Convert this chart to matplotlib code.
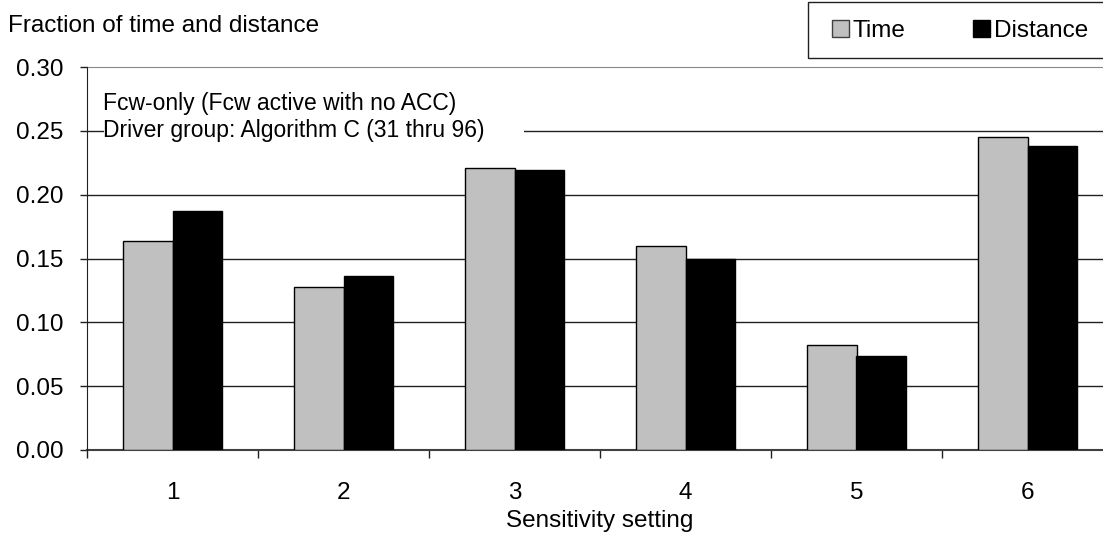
import numpy as np
import matplotlib.pyplot as plt
from matplotlib.patches import Patch, Rectangle

plt.rcParams['font.family'] = ['Liberation Sans', 'DejaVu Sans']

settings = ['1', '2', '3', '4', '5', '6']
time_frac = [0.164, 0.128, 0.221, 0.160, 0.082, 0.245]
dist_frac = [0.187, 0.136, 0.219, 0.150, 0.074, 0.238]
yticks = [0.00, 0.05, 0.10, 0.15, 0.20, 0.25, 0.30]

fs = 17.5
W, H = 1103, 533
fig = plt.figure(figsize=(W / 100, H / 100), dpi=100)
ax = fig.add_axes([87 / W, 1 - 450 / H, 1026 / W, 383 / H])

x = np.arange(len(settings))
bw = 0.29
ax.bar(x - bw / 2, time_frac, bw, color='#c0c0c0', edgecolor='black', linewidth=1, zorder=3)
ax.bar(x + bw / 2, dist_frac, bw, color='black', edgecolor='black', linewidth=1, zorder=3)

ax.set_xlim(-0.5, len(settings) - 0.5)
ax.set_ylim(0, 0.30)
ax.set_yticks(yticks)
ax.set_yticklabels(['%.2f' % v for v in yticks], fontsize=fs)
ax.set_xticks(x)
ax.set_xticklabels(settings, fontsize=fs)
ax.set_xticks(np.arange(-0.5, len(settings)), minor=True)
ax.tick_params(axis='x', which='major', length=0, pad=23)
ax.tick_params(axis='x', which='minor', length=6, width=1, color='#202020')
ax.tick_params(axis='y', length=5, width=1, color='#202020', pad=12)

for v in yticks[1:-1]:
    ax.axhline(v, color='#202020', linewidth=1, zorder=1)

ax.spines['top'].set_color('#888888')
ax.spines['right'].set_visible(False)
ax.spines['left'].set_color('#202020')
ax.spines['left'].set_zorder(5)
ax.spines['bottom'].set_color('#404040')
ax.spines['bottom'].set_linewidth(1.5)

ax.set_xlabel('Sensitivity setting', fontsize=fs, labelpad=4)
fig.text(8 / W, 1 - 26 / H, 'Fraction of time and distance', fontsize=fs, va='center')

# white box behind the note, breaking the gridline
ax.add_patch(Rectangle((104 / W, 1 - 146 / H), 420 / W, 56 / H, transform=fig.transFigure,
                       facecolor='white', edgecolor='none', zorder=2))
ax.text(103 / W, 1 - 117 / H, 'Fcw-only (Fcw active with no ACC)\nDriver group: Algorithm C (31 thru 96)',
        transform=fig.transFigure, fontsize=16.5, va='center', ha='left', linespacing=1.25, zorder=4)

# legend box
fig.patches.append(Rectangle((808 / W, 1 - 58 / H), 310 / W, 56 / H, transform=fig.transFigure,
                             facecolor='white', edgecolor='#202020', linewidth=1))
handles = [Patch(facecolor='#c0c0c0', edgecolor='#404040', label='Time'),
           Patch(facecolor='black', edgecolor='black', label='Distance')]
fig.legend(handles=handles, ncol=2, frameon=False, fontsize=fs,
           loc='center', bbox_to_anchor=(960 / W, 1 - 31 / H),
           handlelength=0.7, handleheight=0.7, handletextpad=0.15, columnspacing=2.8)

fig.savefig('out.png', dpi=100)
